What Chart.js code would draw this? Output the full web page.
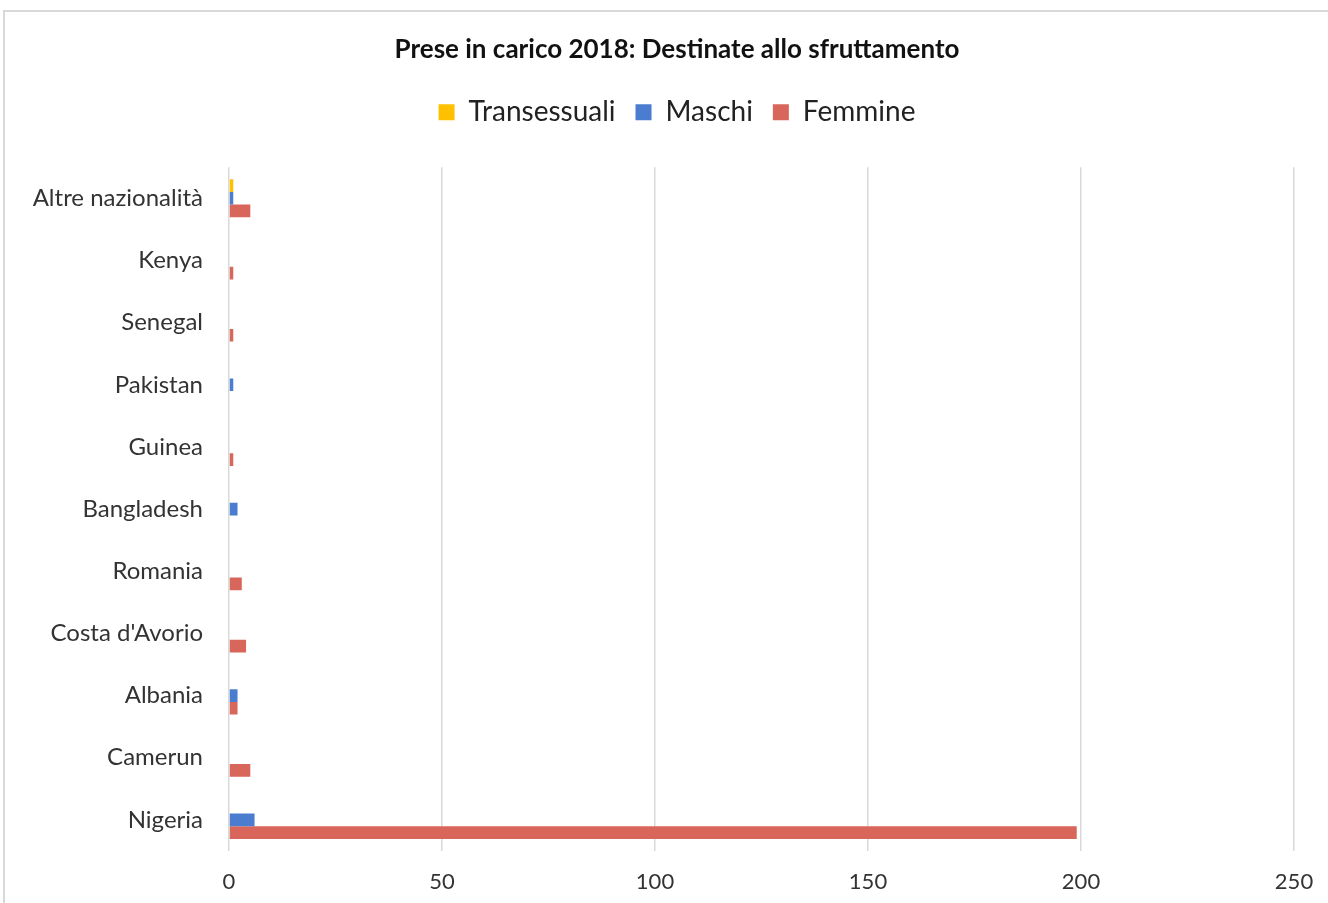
<!DOCTYPE html>
<html>
<head>
<meta charset="utf-8">
<script src="https://cdn.jsdelivr.net/npm/chart.js@4.4.1/dist/chart.umd.min.js"></script>
<style>
  body { margin: 0; background: #fff; }
  #wrap { position: relative; width: 1328px; height: 903px; }
  #frame { position: absolute; left: 3px; top: 10px; right: -10px; bottom: -10px;
           border-left: 2px solid #d9d9d9; border-top: 2px solid #d9d9d9; pointer-events: none; }
  canvas { position: absolute; left: 0; top: 0; }
</style>
</head>
<body>
<div id="wrap">
  <canvas id="chiChart" width="1328" height="903"></canvas>
  <div id="frame"></div>
</div>
<script>
// data, top to bottom as in the picture
const paesi = ['Altre nazionalità', 'Kenya', 'Senegal', 'Pakistan', 'Guinea', 'Bangladesh',
               'Romania', "Costa d'Avorio", 'Albania', 'Camerun', 'Nigeria'];
const transessuali = [1, null, null, null, null, null, null, null, null, null, null];
const maschi       = [1, null, null, 1, null, 2, null, null, 2, null, 6];
const femmine      = [5, 1, 1, null, 1, null, 3, 4, 2, 5, 199];
const xTicks = [0, 50, 100, 150, 200, 250];

const fontFam = 'Lato, "Open Sans", sans-serif';

// extra room under the legend, like the excel layout
const legendSpace = {
    id: 'legendSpace',
    beforeInit(chart) {
        const origFit = chart.legend.fit;
        chart.legend.fit = function () {
            origFit.bind(chart.legend)();
            this.height = 89;
        };
    }
};

document.addEventListener('DOMContentLoaded', () => {
    const ctx = document.getElementById('chiChart').getContext('2d');
    new Chart(ctx, {
        type: 'bar',
        data: {
            labels: paesi,
            datasets: [
                { label: 'Transessuali', data: transessuali, backgroundColor: '#FFC000' },
                { label: 'Maschi', data: maschi, backgroundColor: '#4A7CCF' },
                { label: 'Femmine', data: femmine, backgroundColor: '#D9665A' }
            ]
        },
        plugins: [legendSpace],
        options: {
            indexAxis: 'y',
            responsive: false,
            animation: false,
            categoryPercentage: 0.61,
            barPercentage: 1,
            layout: { padding: { left: 60, right: 34, top: 0, bottom: 0 } },
            plugins: {
                title: {
                    display: true,
                    text: 'Prese in carico 2018: Destinate allo sfruttamento',
                    color: '#111',
                    font: { family: fontFam, size: 26, weight: 'bold' },
                    padding: { top: 34, bottom: 13 }
                },
                legend: {
                    display: true,
                    labels: {
                        color: '#222',
                        font: { family: fontFam, size: 28 },
                        boxWidth: 16,
                        boxHeight: 16,
                        padding: 20
                    }
                },
                tooltip: { enabled: false }
            },
            scales: {
                x: {
                    min: 0,
                    max: 250,
                    afterBuildTicks: axis => { axis.ticks = xTicks.map(v => ({ value: v })); },
                    afterFit: axis => {
                        axis.height = 52;
                        axis.paddingLeft = 0;
                        axis.paddingRight = 0;
                    },
                    grid: { color: '#d9d9d9', lineWidth: 1.5, drawTicks: false },
                    border: { display: false },
                    ticks: { color: '#333', padding: 18, font: { family: fontFam, size: 22 } }
                },
                y: {
                    grid: { display: false, drawTicks: false },
                    border: { display: false },
                    afterFit: axis => {
                        axis.width = 169;
                        // long names run into the left padding, don't clip them
                        axis._computeLabelArea = () => null;
                    },
                    ticks: { color: '#333', padding: 26, font: { family: fontFam, size: 24 } }
                }
            }
        }
    });
});
</script>
</body>
</html>
